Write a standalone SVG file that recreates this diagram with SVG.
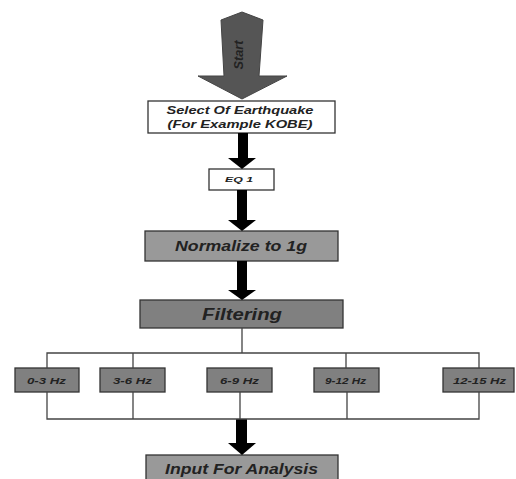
<svg xmlns="http://www.w3.org/2000/svg" width="516" height="479" viewBox="0 0 516 479">
<defs>
<style>
.t{font-family:"Liberation Sans",Arial,sans-serif;font-weight:bold;font-style:italic;text-anchor:middle;fill:#222}
.box{stroke:#333;stroke-width:1.3}
.ln{stroke:#444;stroke-width:1.3;fill:none}
.fq{fill:#808080;stroke:#333;stroke-width:1.3}
</style>
</defs>
<rect width="516" height="479" fill="#fff"/>
<g id="start">
<polygon points="242,12 263,20 259,76 287,76 242,99 198,76 224,76 221,20" fill="#555" stroke="#444" stroke-width="1"/>
<text class="t" transform="translate(243,55) rotate(-90)" font-size="12" fill="#111" textLength="29" lengthAdjust="spacingAndGlyphs">Start</text>
</g>
<g id="select">
<rect class="box" x="148" y="101" width="187" height="32" fill="#fff"/>
<text class="t" x="240" y="114" font-size="11" fill="#333" textLength="147" lengthAdjust="spacingAndGlyphs">Select Of Earthquake</text>
<text class="t" x="240" y="127.5" font-size="11" fill="#333" textLength="145" lengthAdjust="spacingAndGlyphs">(For Example KOBE)</text>
</g>
<g id="eq1">
<rect class="box" x="209" y="169" width="65" height="21" fill="#fff"/>
<text class="t" x="239" y="182" font-size="8" textLength="28" lengthAdjust="spacingAndGlyphs">EQ 1</text>
</g>
<g id="normalize">
<rect class="box" x="145" y="231" width="193" height="30" fill="#999"/>
<text class="t" x="241" y="250.5" font-size="14" textLength="132" lengthAdjust="spacingAndGlyphs">Normalize to 1g</text>
</g>
<g id="filtering">
<rect class="box" x="140" y="300" width="203" height="28" fill="#808080"/>
<text class="t" x="242" y="319.5" font-size="16" textLength="80" lengthAdjust="spacingAndGlyphs">Filtering</text>
</g>
<g id="f0-3">
<rect class="fq" x="15" y="368" width="64" height="24"/>
<text class="t" x="46.5" y="383.5" font-size="9" textLength="39" lengthAdjust="spacingAndGlyphs">0-3 Hz</text>
</g>
<g id="f3-6">
<rect class="fq" x="100" y="368" width="65" height="24"/>
<text class="t" x="132.5" y="383.5" font-size="9" textLength="39" lengthAdjust="spacingAndGlyphs">3-6 Hz</text>
</g>
<g id="f6-9">
<rect class="fq" x="207" y="368" width="65" height="24"/>
<text class="t" x="239.5" y="383.5" font-size="9" textLength="39" lengthAdjust="spacingAndGlyphs">6-9 Hz</text>
</g>
<g id="f9-12">
<rect class="fq" x="314" y="368" width="65" height="24"/>
<text class="t" x="345.5" y="383.5" font-size="9" textLength="41" lengthAdjust="spacingAndGlyphs">9-12 Hz</text>
</g>
<g id="f12-15">
<rect class="fq" x="443" y="368" width="71" height="24"/>
<text class="t" x="479.5" y="383.5" font-size="9" textLength="53" lengthAdjust="spacingAndGlyphs">12-15 Hz</text>
</g>
<g id="input">
<rect class="box" x="146" y="455" width="192" height="30" fill="#999"/>
<text class="t" x="241.5" y="474" font-size="14" textLength="153" lengthAdjust="spacingAndGlyphs">Input For Analysis</text>
</g>
<g id="connectors">
<g fill="#000">
<rect x="238" y="133" width="10" height="26"/>
<polygon points="228,158 256,158 242,169"/>
<rect x="237" y="190" width="10" height="31"/>
<polygon points="228,220 256,220 242,231"/>
<rect x="237" y="261" width="10" height="30"/>
<polygon points="228,290 256,290 242,300"/>
<rect x="236" y="419" width="11" height="25"/>
<polygon points="228,443 256,443 242,455"/>
</g>
<path class="ln" d="M242,328 V353 M47,368 V353 H479 V368 M133,353 V368 M346,353 V368"/>
<path class="ln" d="M47,392 V419 H479 V392 M133,392 V419 M240,392 V419 M347,392 V419"/>
</g>
</svg>
